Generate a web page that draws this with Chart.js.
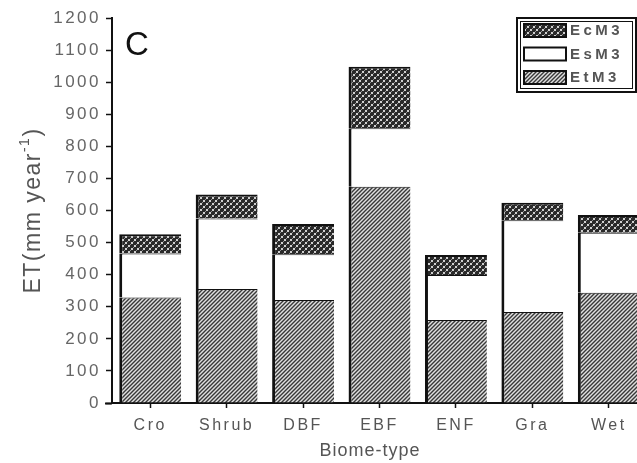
<!DOCTYPE html>
<html>
<head>
<meta charset="utf-8">
<script src="https://cdn.jsdelivr.net/npm/chart.js@4.4.1/dist/chart.umd.min.js"></script>
<style>
html, body { margin: 0; padding: 0; background: #fff; overflow: hidden; }
#wrap { width: 660px; height: 463px; }
</style>
</head>
<body>
<div id="wrap"><canvas id="etChart" width="660" height="463"></canvas></div>
<script>
const biomes = ["Cro", "Shrub", "DBF", "EBF", "ENF", "Gra", "Wet"];
const etM3 = [329, 355, 321, 674, 259, 284, 344];
const esM3 = [137, 220, 143, 182, 140, 286, 187];
const ecM3 = [60, 75, 94, 192, 62, 54, 55];
const yTicks = [0, 100, 200, 300, 400, 500, 600, 700, 800, 900, 1000, 1100, 1200];

// fill patterns
function hatchPattern() {
    const c = document.createElement("canvas");
    c.width = 4; c.height = 4;
    const g = c.getContext("2d");
    g.fillStyle = "#e0e0e0";
    g.fillRect(0, 0, 4, 4);
    g.strokeStyle = "#383838";
    g.lineWidth = 1.4;
    g.beginPath();
    g.moveTo(-1, 5); g.lineTo(5, -1);
    g.moveTo(-1, 1); g.lineTo(1, -1);
    g.moveTo(3, 5); g.lineTo(5, 3);
    g.stroke();
    return g.createPattern(c, "repeat");
}

function dotPattern() {
    const c = document.createElement("canvas");
    c.width = 6; c.height = 6;
    const g = c.getContext("2d");
    g.fillStyle = "#2a2a2a";
    g.fillRect(0, 0, 6, 6);
    g.fillStyle = "#d0d0d0";
    g.fillRect(2, 0, 2, 1);
    g.fillRect(0, 2, 1, 2);
    g.fillRect(5, 2, 1, 2);
    g.fillRect(2, 5, 2, 1);
    g.fillStyle = "#909090";
    g.fillRect(1, 1, 1, 1);
    g.fillRect(4, 4, 1, 1);
    return g.createPattern(c, "repeat");
}

const spacing = {
    id: "spacing",
    beforeLayout(chart) { chart.ctx.letterSpacing = "2.5px"; },
    beforeDraw(chart) { chart.ctx.letterSpacing = "2.5px"; }
};

const extras = {
    id: "extras",
    afterDraw(chart) {
        const ctx = chart.ctx;
        const area = chart.chartArea;
        ctx.save();

        // stub of the x axis left of the y axis
        ctx.strokeStyle = "#111";
        ctx.lineWidth = 2;
        ctx.beginPath();
        ctx.moveTo(area.left - 7, area.bottom + 0.5);
        ctx.lineTo(area.left, area.bottom + 0.5);
        ctx.stroke();

        // panel letter
        ctx.letterSpacing = "0px";
        ctx.fillStyle = "#111";
        ctx.font = "33px 'Liberation Sans', Arial, sans-serif";
        ctx.textBaseline = "alphabetic";
        ctx.textAlign = "left";
        ctx.fillText("C", area.left + 13, 55);

        // x title
        ctx.fillStyle = "#555";
        ctx.font = "18px 'Liberation Sans', Arial, sans-serif";
        ctx.letterSpacing = "1px";
        ctx.textAlign = "center";
        ctx.fillText("Biome-type", area.left + 258, 456);

        // y title with superscript
        ctx.save();
        ctx.translate(34, (area.top + area.bottom) / 2);
        ctx.rotate(-Math.PI / 2);
        ctx.textBaseline = "middle";
        ctx.textAlign = "left";
        ctx.letterSpacing = "1.5px";
        const mainFont = "23px 'Liberation Sans', Arial, sans-serif";
        const supFont = "14px 'Liberation Sans', Arial, sans-serif";
        const p1 = "ET(mm year", p3 = ")";
        ctx.font = supFont;
        const w2 = ctx.measureText("-1").width;
        ctx.font = mainFont;
        const w1 = ctx.measureText(p1).width, w3 = ctx.measureText(p3).width;
        let x = -(w1 + w2 + w3) / 2;
        ctx.fillText(p1, x, 0);
        x += w1;
        ctx.font = supFont;
        ctx.fillText("-1", x, -9);
        x += w2;
        ctx.font = mainFont;
        ctx.fillText(p3, x, 0);
        ctx.restore();

        // legend box
        const lx = 517, ly = 18, lw = 119, lh = 74;
        ctx.letterSpacing = "0px";
        ctx.strokeStyle = "#111";
        ctx.lineWidth = 2;
        ctx.strokeRect(lx, ly, lw, lh);
        ctx.lineWidth = 1;
        ctx.strokeRect(lx + 3.5, ly + 3.5, lw - 7, lh - 7);

        const sets = chart.data.datasets.slice().reverse();
        ctx.font = "bold 15px 'Liberation Sans', Arial, sans-serif";
        ctx.letterSpacing = "3.5px";
        ctx.textBaseline = "middle";
        ctx.textAlign = "left";
        sets.forEach((ds, i) => {
            const sy = ly + 6 + i * 23.5;
            ctx.fillStyle = ds.backgroundColor;
            ctx.fillRect(lx + 7, sy, 42, 13);
            ctx.strokeStyle = "#111";
            ctx.lineWidth = 2;
            ctx.strokeRect(lx + 7, sy, 42, 13);
            ctx.fillStyle = "#555";
            ctx.fillText(ds.label, lx + 53, sy + 7);
        });
        ctx.restore();
    }
};

const ctx = document.getElementById("etChart").getContext("2d");
const barBorder = { left: 3, top: 1, right: 0, bottom: 0 };

new Chart(ctx, {
    type: "bar",
    data: {
        labels: biomes,
        datasets: [
            { label: "EtM3", data: etM3, backgroundColor: hatchPattern(), borderColor: "#111", borderWidth: barBorder, borderSkipped: false },
            { label: "EsM3", data: esM3, backgroundColor: "#ffffff", borderColor: "#111", borderWidth: barBorder, borderSkipped: false },
            { label: "EcM3", data: ecM3, backgroundColor: dotPattern(), borderColor: "#111", borderWidth: { left: 3, top: 2, right: 0, bottom: 0 }, borderSkipped: false }
        ]
    },
    options: {
        responsive: false,
        animation: false,
        devicePixelRatio: 1,
        layout: { padding: { top: 18, right: 13, left: 0, bottom: 0 } },
        datasets: { bar: { categoryPercentage: 1, barPercentage: 0.81 } },
        plugins: {
            legend: { display: false },
            tooltip: { enabled: false }
        },
        scales: {
            x: {
                stacked: true,
                offset: true,
                grid: { drawOnChartArea: false, offset: false, tickLength: 5, tickColor: "#111", tickWidth: 1.5 },
                border: { color: "#111", width: 2 },
                ticks: { color: "#555", padding: 8, font: { size: 16, family: "'Liberation Sans', Arial, sans-serif" } },
                afterFit(scale) { scale.height = 60; }
            },
            y: {
                stacked: true,
                min: 0,
                max: 1200,
                afterBuildTicks(scale) {
                    const t = [];
                    yTicks.forEach((v, i) => {
                        t.push({ value: v, major: true });
                        if (i < yTicks.length - 1) t.push({ value: (v + yTicks[i + 1]) / 2, major: false });
                    });
                    scale.ticks = t;
                },
                grid: {
                    drawOnChartArea: false,
                    tickLength: 6,
                    tickColor: (c) => (c.tick && c.tick.major ? "#111" : "#777"),
                    tickWidth: (c) => (c.tick && c.tick.major ? 1.5 : 1)
                },
                border: { color: "#111", width: 2 },
                ticks: {
                    color: "#666",
                    padding: 5,
                    font: { size: 17, family: "'Liberation Sans', Arial, sans-serif" },
                    callback: (v) => (yTicks.includes(v) ? String(v) : "")
                },
                afterFit(scale) { scale.width = 112; }
            }
        }
    },
    plugins: [spacing, extras]
});
</script>
</body>
</html>
